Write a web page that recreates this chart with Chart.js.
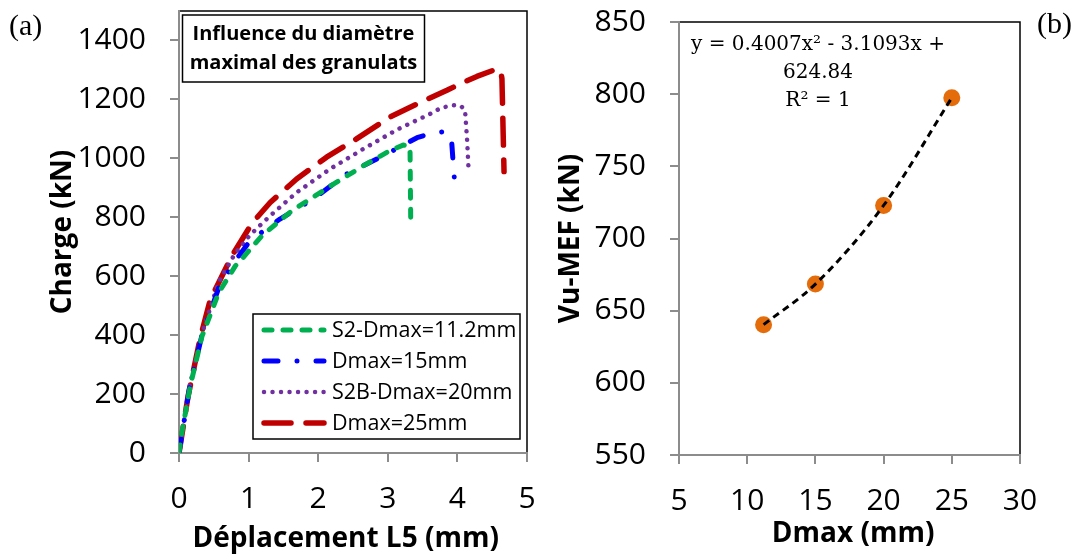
<!DOCTYPE html>
<html>
<head>
<meta charset="utf-8">
<script src="https://cdn.jsdelivr.net/npm/chart.js@4.4.0/dist/chart.umd.min.js"></script>
<style>
body { margin: 0; background: #fff; }
#wrap { position: relative; width: 1078px; height: 554px; }
canvas { position: absolute; top: 0; }
#ca { left: 0; }
#cb { left: 540px; }
</style>
</head>
<body>
<div id="wrap">
  <canvas id="ca" width="540" height="554"></canvas>
  <canvas id="cb" width="538" height="554"></canvas>
</div>
<script>
// (a) charge vs deplacement, one pair of arrays per curve
const dispS2 = [0, 0.04, 0.16, 0.33, 0.57, 0.81, 0.92, 1.19, 1.62, 2.17, 2.65, 3.03, 3.22, 3.30, 3.32, 3.33];
const loadS2 = [0, 67, 226, 396, 544, 635, 663, 737, 822, 905, 975, 1026, 1045, 1042, 1020, 772];

const disp15 = [0, 0.15, 0.33, 0.57, 0.80, 1.02, 1.45, 1.93, 2.41, 2.94, 3.42, 3.62, 3.85, 3.92, 3.94, 3.97];
const load15 = [0, 220, 400, 560, 650, 720, 794, 862, 947, 1009, 1070, 1085, 1092, 1049, 981, 890];

const dispS2B = [0, 0.15, 0.33, 0.57, 0.80, 1.02, 1.31, 1.69, 2.17, 2.65, 3.13, 3.61, 3.77, 3.95, 4.05, 4.11, 4.14, 4.16];
const loadS2B = [0, 225, 405, 580, 675, 740, 805, 884, 964, 1032, 1097, 1151, 1172, 1180, 1178, 1163, 1060, 964];

const disp25 = [0, 0.13, 0.30, 0.45, 0.57, 0.76, 1.05, 1.31, 1.69, 2.12, 2.55, 3.03, 3.46, 3.85, 4.04, 4.28, 4.54, 4.62, 4.64, 4.67];
const load25 = [0, 192, 385, 521, 578, 669, 780, 850, 930, 1004, 1066, 1140, 1189, 1231, 1253, 1278, 1301, 1300, 1270, 955];

const labelsA = ['S2-Dmax=11.2mm', 'Dmax=15mm', 'S2B-Dmax=20mm', 'Dmax=25mm'];

// (b) Vu-MEF vs Dmax
const dmax = [11.2, 15, 20, 25];
const vuMef = [640.3, 668.4, 722.9, 797.5];
const equation = ['y = 0.4007x\u00B2 - 3.1093x +', '624.84', 'R\u00B2 = 1'];

const FONT = "'Open Sans', sans-serif";
const AXIS_GREY = '#8c8c8c';

function pts(xs, ys) {
    return xs.map((x, i) => ({ x: x, y: ys[i] }));
}

const styles = [
    { color: '#00b050', width: 5, dash: [8, 11] },
    { color: '#0000ff', width: 5, dash: [14, 19, 0.01, 19] },
    { color: '#7030a0', width: 4.5, dash: [0.01, 8.5] },
    { color: '#c00000', width: 5.5, dash: [27, 15] }
];
const seriesA = [pts(dispS2, loadS2), pts(disp15, load15), pts(dispS2B, loadS2B), pts(disp25, load25)];

// black plot-area frame, axes are painted over it afterwards
const frame = {
    id: 'frame',
    beforeDraw(chart) {
        const { ctx, chartArea: a } = chart;
        ctx.save();
        ctx.strokeStyle = '#000';
        ctx.lineWidth = 1.5;
        ctx.strokeRect(a.left, a.top, a.right - a.left, a.bottom - a.top);
        ctx.restore();
    }
};

function scale(min, max, step, title, pad, size, horizontal) {
    return {
        type: 'linear',
        min: min,
        max: max,
        afterFit: (s) => {
            if (horizontal) s.height = size; else s.width = size;
            s.paddingLeft = 0; s.paddingRight = 0; s.paddingTop = 0; s.paddingBottom = 0;
        },
        ticks: {
            stepSize: step,
            includeBounds: false,
            color: '#000',
            padding: horizontal ? 19 : 24,
            font: { family: FONT, size: 30 },
            callback: (v) => String(v)
        },
        grid: { drawOnChartArea: false, drawTicks: true, tickLength: 9, color: AXIS_GREY, lineWidth: 2 },
        border: { display: true, color: AXIS_GREY, width: 2 },
        title: {
            display: true,
            text: title,
            color: '#000',
            padding: horizontal ? { top: 0, bottom: pad } : { top: pad, bottom: 0 },
            font: { family: FONT, size: 28, weight: 'bold', lineHeight: 1.08 }
        }
    };
}

const decorA = {
    id: 'decorA',
    afterDraw(chart) {
        const ctx = chart.ctx;
        ctx.save();
        // panel letter
        ctx.fillStyle = '#000';
        ctx.font = "30px 'Liberation Serif', serif";
        ctx.textBaseline = 'middle';
        ctx.textAlign = 'left';
        ctx.fillText('(a)', 9, 27);

        // title box
        ctx.strokeStyle = '#000';
        ctx.lineWidth = 1.5;
        ctx.fillStyle = '#fff';
        ctx.fillRect(182.5, 15, 242, 67);
        ctx.strokeRect(182.5, 15, 242, 67);
        ctx.fillStyle = '#000';
        ctx.font = 'bold 20px ' + FONT;
        ctx.textAlign = 'center';
        ctx.fillText('Influence du diamètre', 303.5, 34);
        ctx.fillText('maximal des granulats', 303.5, 63);

        // legend
        ctx.fillStyle = '#fff';
        ctx.fillRect(253, 314, 267, 125);
        ctx.strokeRect(253, 314, 267, 125);
        ctx.font = '21.5px ' + FONT;
        ctx.textAlign = 'left';
        labelsA.forEach((lab, i) => {
            const y = 330 + i * 31;
            const st = styles[i];
            ctx.beginPath();
            ctx.strokeStyle = st.color;
            ctx.lineWidth = st.width;
            ctx.lineCap = 'round';
            ctx.setLineDash(st.dash);
            ctx.moveTo(264, y);
            ctx.lineTo(324, y);
            ctx.stroke();
            ctx.setLineDash([]);
            ctx.fillStyle = '#000';
            ctx.fillText(lab, 332, y + 1);
        });
        ctx.restore();
    }
};

new Chart(document.getElementById('ca'), {
    type: 'scatter',
    data: {
        datasets: seriesA.map((d, i) => ({
            label: labelsA[i],
            data: d,
            showLine: true,
            pointRadius: 0,
            tension: 0,
            borderColor: styles[i].color,
            borderWidth: styles[i].width,
            borderDash: styles[i].dash,
            borderCapStyle: 'round',
            borderJoinStyle: 'round'
        }))
    },
    options: {
        responsive: false,
        animation: false,
        layout: { padding: { left: 0, top: 11, right: 13, bottom: 0 } },
        plugins: { legend: { display: false }, tooltip: { enabled: false } },
        scales: {
            x: scale(0, 5, 1, 'Déplacement L5 (mm)  ', 0, 101, true),
            y: scale(0, 1500, 200, 'Charge (kN)', 48, 179, false)
        }
    },
    plugins: [frame, decorA]
});

const decorB = {
    id: 'decorB',
    afterDraw(chart) {
        const ctx = chart.ctx;
        ctx.save();
        ctx.fillStyle = '#000';
        ctx.textBaseline = 'middle';
        ctx.font = "30px 'Liberation Serif', serif";
        ctx.textAlign = 'left';
        ctx.fillText('(b)', 497, 25);
        ctx.font = "20px 'DejaVu Serif', serif";
        ctx.textAlign = 'center';
        equation.forEach((line, i) => ctx.fillText(line, 278, 45 + i * 28));
        ctx.restore();
    }
};

new Chart(document.getElementById('cb'), {
    type: 'scatter',
    data: {
        datasets: [
            {
                label: 'Poly.',
                data: pts(dmax, vuMef),
                showLine: true,
                pointRadius: 0,
                borderColor: '#000',
                borderWidth: 3,
                borderDash: [7, 5],
                cubicInterpolationMode: 'monotone'
            },
            {
                label: 'Vu-MEF',
                data: pts(dmax, vuMef),
                showLine: false,
                pointRadius: 8.5,
                pointBackgroundColor: '#e46c0a',
                pointBorderColor: '#e46c0a',
                pointBorderWidth: 0
            }
        ]
    },
    options: {
        responsive: false,
        animation: false,
        layout: { padding: { left: 0, top: 22, right: 58, bottom: 0 } },
        plugins: { legend: { display: false }, tooltip: { enabled: false } },
        scales: {
            x: scale(5, 30, 5, ' Dmax (mm)', 5, 99, true),
            y: scale(550, 850, 50, 'Vu-MEF (kN)', 16, 139, false)
        }
    },
    plugins: [frame, decorB]
});
</script>
</body>
</html>
